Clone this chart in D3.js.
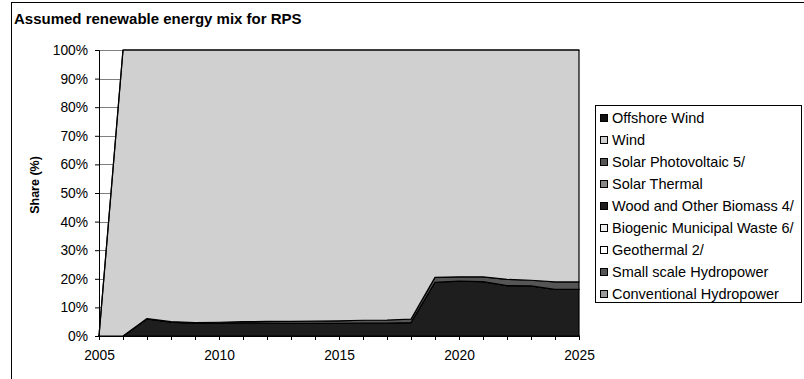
<!DOCTYPE html>
<html>
<head>
<meta charset="utf-8">
<script src="https://cdn.jsdelivr.net/npm/d3@7"></script>
<style>
  html, body { margin: 0; padding: 0; background: #fff; }
  svg { display: block; font-family: "Liberation Sans", Arial, sans-serif; }
</style>
</head>
<body>
<svg id="chart" width="804" height="379"></svg>
<script>
// Renewable energy shares (%) by year, stacked bottom to top
const years = [2005, 2006, 2007, 2008, 2009, 2010, 2011, 2012, 2013, 2014, 2015,
               2016, 2017, 2018, 2019, 2020, 2021, 2022, 2023, 2024, 2025];

const conventionalHydro = [0,0,0,0,0,0,0,0,0,0,0,0,0,0,0,0,0,0,0,0,0];
const smallHydro        = [0,0,0,0,0,0,0,0,0,0,0,0,0,0,0,0,0,0,0,0,0];
const geothermal        = [0,0,0,0,0,0,0,0,0,0,0,0,0,0,0,0,0,0,0,0,0];
const biogenicMSW       = [0,0,0,0,0,0,0,0,0,0,0,0,0,0,0,0,0,0,0,0,0];
const woodBiomass       = [0, 0, 6.0, 4.8, 4.4, 4.4, 4.5, 4.5, 4.4, 4.4, 4.4,
                           4.5, 4.5, 4.7, 18.8, 19.2, 19.0, 17.6, 17.5, 16.3, 16.3];
const solarThermal      = [0,0,0,0,0,0,0,0,0,0,0,0,0,0,0,0,0,0,0,0,0];
const solarPV           = [0, 0, 0.1, 0.2, 0.3, 0.4, 0.5, 0.6, 0.7, 0.8, 0.9,
                           1.0, 1.1, 1.2, 1.7, 1.5, 1.7, 2.2, 2.0, 2.6, 2.6];
const wind              = [0, 100, 93.9, 95.0, 95.3, 95.2, 95.0, 94.9, 94.9, 94.8, 94.7,
                           94.5, 94.4, 94.1, 79.5, 79.3, 79.3, 80.2, 80.5, 81.1, 81.1];
const offshoreWind      = [0,0,0,0,0,0,0,0,0,0,0,0,0,0,0,0,0,0,0,0,0];

const yTicks = [0, 10, 20, 30, 40, 50, 60, 70, 80, 90, 100];
const xTickLabels = [2005, 2010, 2015, 2020, 2025];

// series from bottom of the stack to top
const series = [
  { name: "Conventional Hydropower",      values: conventionalHydro, color: "#9a9a9a" },
  { name: "Small scale Hydropower",       values: smallHydro,        color: "#555555" },
  { name: "Geothermal 2/",                values: geothermal,        color: "#ffffff" },
  { name: "Biogenic Municipal Waste 6/",  values: biogenicMSW,       color: "#eeeeee" },
  { name: "Wood and Other Biomass 4/",    values: woodBiomass,       color: "#1e1e1e" },
  { name: "Solar Thermal",                values: solarThermal,      color: "#888888" },
  { name: "Solar Photovoltaic 5/",        values: solarPV,           color: "#555555" },
  { name: "Wind",                         values: wind,              color: "#d0d0d0" },
  { name: "Offshore Wind",                values: offshoreWind,      color: "#111111" }
];

const rows = years.map((yr, i) => {
  const r = { year: yr };
  series.forEach(s => { r[s.name] = s.values[i]; });
  return r;
});

const svg = d3.select("#chart");

// chart frame
svg.append("rect")
  .attr("x", 11.5).attr("y", 2.5)
  .attr("width", 900).attr("height", 500)
  .attr("fill", "none").attr("stroke", "#000").attr("stroke-width", 1);

svg.append("text")
  .attr("x", 14).attr("y", 24)
  .attr("font-size", 15).attr("font-weight", "bold")
  .text("Assumed renewable energy mix for RPS");

const x = d3.scaleLinear().domain([2005, 2025]).range([99, 579]);
const y = d3.scaleLinear().domain([0, 100]).range([336, 50]);

// gridlines
svg.append("g")
  .selectAll("line")
  .data(yTicks.filter(d => d > 0))
  .join("line")
  .attr("x1", x(2005)).attr("x2", x(2025))
  .attr("y1", d => Math.round(y(d)) + 0.5).attr("y2", d => Math.round(y(d)) + 0.5)
  .attr("stroke", "#808080").attr("stroke-width", 1);

// stacked areas
const stack = d3.stack().keys(series.map(s => s.name));
const layers = stack(rows);
const area = d3.area()
  .x(d => x(d.data.year))
  .y0(d => y(d[0]))
  .y1(d => y(d[1]));

svg.append("g")
  .selectAll("path")
  .data(layers)
  .join("path")
  .attr("d", area)
  .attr("fill", (d, i) => series[i].color)
  .attr("stroke", "#000")
  .attr("stroke-width", 1.2)
  .attr("stroke-linejoin", "round");

// y axis
const yAxis = d3.axisLeft(y)
  .tickValues(yTicks)
  .tickSize(4)
  .tickPadding(7)
  .tickFormat(d => d + "%");
const gy = svg.append("g")
  .attr("transform", `translate(${x(2005)},0)`)
  .call(yAxis);
gy.select(".domain").attr("stroke", "#000");
gy.selectAll(".tick line").attr("stroke", "#000");
gy.selectAll("text").attr("font-size", 13.8).attr("fill", "#000")
  .attr("font-family", "'Liberation Sans', Arial, sans-serif");

// x axis
const xAxis = d3.axisBottom(x)
  .tickValues(years)
  .tickSize(4)
  .tickSizeOuter(0)
  .tickPadding(10)
  .tickFormat(d => xTickLabels.includes(d) ? String(d) : "");
const gx = svg.append("g")
  .attr("transform", `translate(0,${y(0)})`)
  .call(xAxis);
gx.select(".domain").attr("stroke", "#000");
gx.selectAll(".tick line").attr("stroke", "#000");
gx.selectAll("text").attr("font-size", 13.8).attr("fill", "#000")
  .attr("font-family", "'Liberation Sans', Arial, sans-serif");

// axis title
svg.append("text")
  .attr("transform", `translate(39,${(y(0) + y(100)) / 2 - 8}) rotate(-90)`)
  .attr("text-anchor", "middle")
  .attr("font-size", 12.5).attr("font-weight", "bold")
  .text("Share (%)");

// legend, listed top of stack first
const legendItems = series.slice().reverse();
const lg = svg.append("g");
lg.append("rect")
  .attr("x", 595.5).attr("y", 105.5)
  .attr("width", 206).attr("height", 197)
  .attr("fill", "#fff").attr("stroke", "#000").attr("stroke-width", 1);
const item = lg.selectAll("g.item")
  .data(legendItems)
  .join("g")
  .attr("class", "item")
  .attr("transform", (d, i) => `translate(0,${118 + i * 22})`);
item.append("rect")
  .attr("x", 600.5).attr("y", -3.5)
  .attr("width", 7).attr("height", 7)
  .attr("fill", d => d.color).attr("stroke", "#000").attr("stroke-width", 1);
item.append("text")
  .attr("x", 612).attr("y", 5)
  .attr("font-size", 14.5)
  .text(d => d.name);
</script>
</body>
</html>
